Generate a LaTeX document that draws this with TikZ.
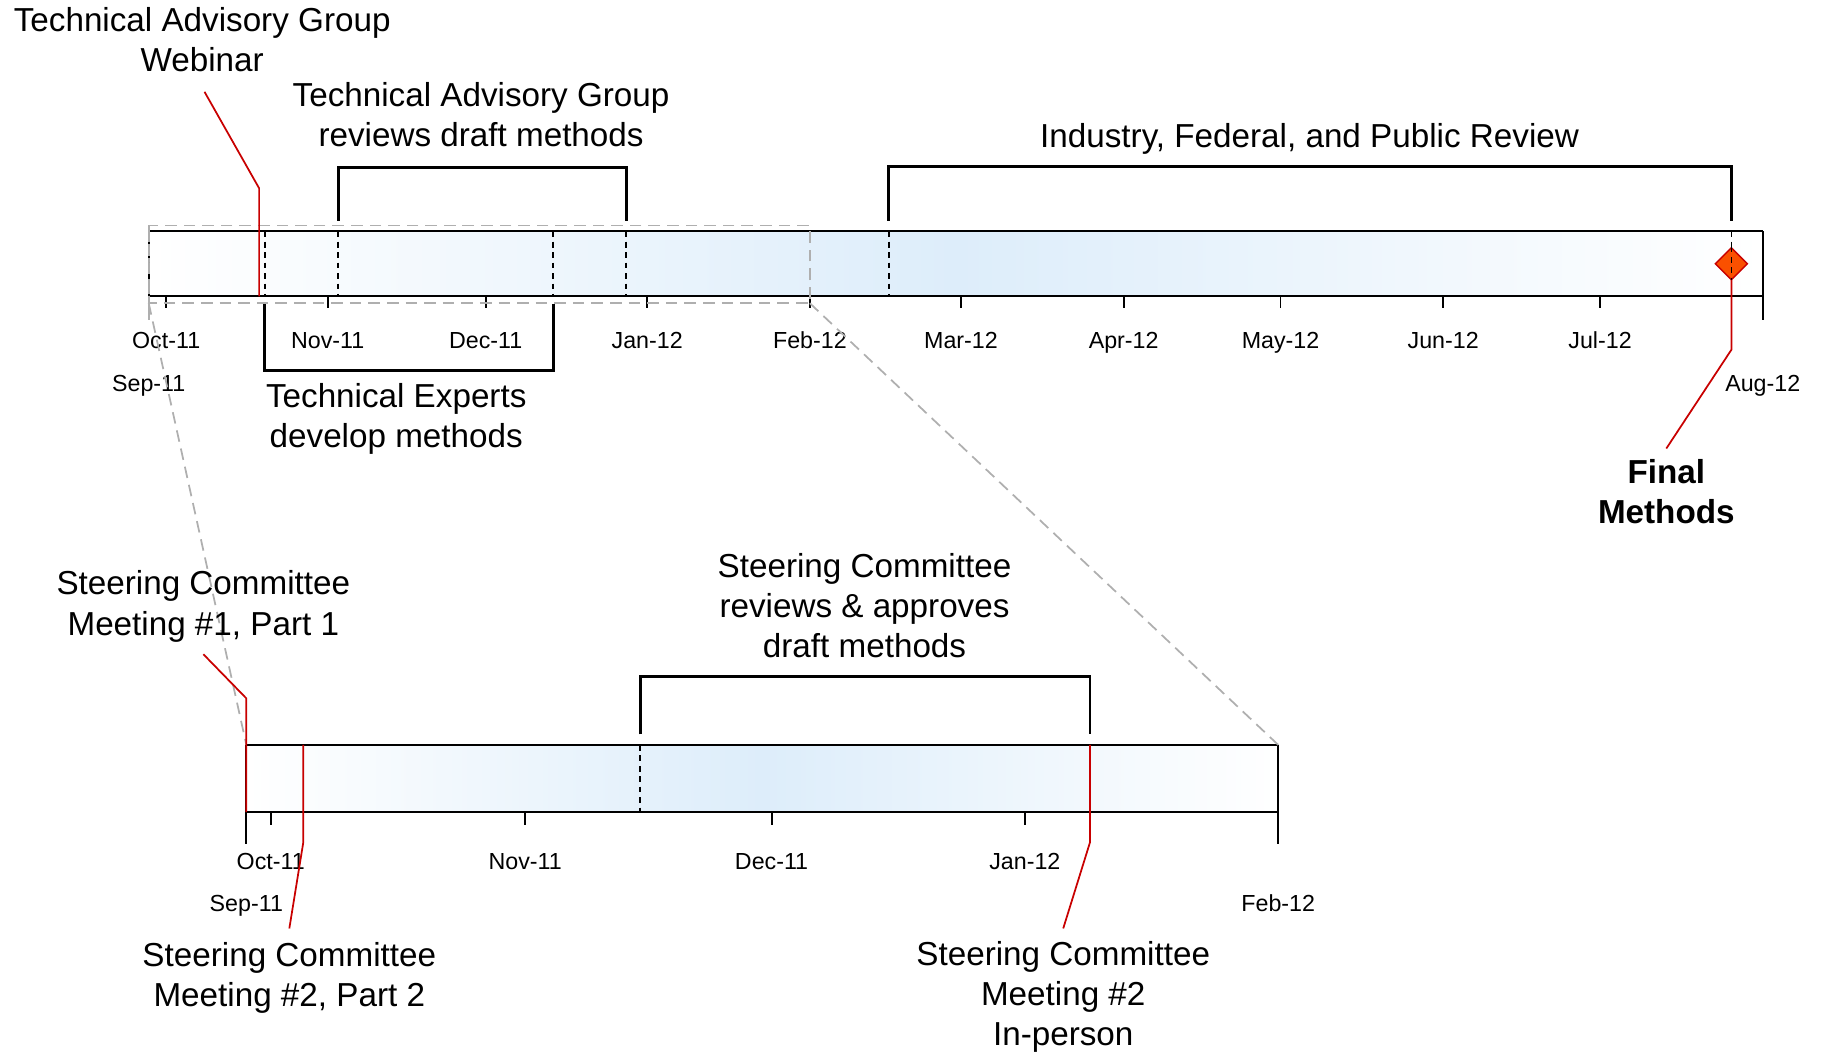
\documentclass[tikz,border=0pt]{standalone}
\usepackage{fontspec}
\setmainfont{Liberation Sans}
\usetikzlibrary{shapes.geometric}
\definecolor{barblue}{RGB}{221,237,250}
\definecolor{leadred}{RGB}{200,0,0}
\definecolor{diafill}{RGB}{250,80,0}
\definecolor{zoomgray}{RGB}{175,175,175}
\begin{document}
\begin{tikzpicture}[x=1pt,y=-1pt,
  big/.style={font=\fontsize{28.6}{34.5}\selectfont, align=center, inner sep=0pt, anchor=base},
  bigbold/.style={big, font=\fontsize{28.6}{34.5}\selectfont\bfseries},
  small/.style={font=\fontsize{20}{24}\selectfont, inner sep=0pt, anchor=base},
  barline/.style={line width=2pt},
  brk/.style={line width=2.5pt},
  tickline/.style={line width=1.6pt},
  dsh/.style={line width=1.5pt, dash pattern=on 5pt off 4pt},
  lead/.style={leadred, line width=1.5pt},
  zoomline/.style={zoomgray, line width=1.5pt, dash pattern=on 10pt off 6pt},
  milestone/.style={diamond, draw=leadred, fill=diafill, line width=1.2pt, minimum width=28pt, minimum height=28pt, inner sep=0pt}]
\useasboundingbox (0,0) rectangle (1568,906);

% ---------------- top bar ----------------
\coordinate (T-nw) at (128,199);
\coordinate (T-ne) at (1517,199);
\coordinate (T-sw) at (128,255);
\coordinate (T-se) at (1517,255);
\shade[left color=white, right color=white, middle color=barblue] (T-nw) rectangle (T-se);
\draw[barline] (T-nw) -- (T-ne);
\draw[barline] (T-sw) -- (T-se);
\draw[barline] (T-ne) -- (1517,275);
\draw[zoomgray, line width=1.5pt] (T-nw) -- (128,275);
\draw[dsh] (T-nw) -- (T-sw);

% ticks and month labels
\foreach \x/\m in {143/Oct-11, 282/Nov-11, 418/Dec-11, 557/Jan-12, 697/Feb-12, 827/Mar-12, 967/Apr-12, 1102/May-12, 1242/Jun-12, 1377/Jul-12}{
  \draw[tickline] (\x,255) -- (\x,265);
  \node[small] at (\x,300) {\m};
}
\node[small] (sep11a) at (128,337) {Sep-11};
\node[small] (aug12) at (1517,337) {Aug-12};

% dashed markers inside the top bar
\foreach \x in {228,291,476,539,765,1490}{
  \draw[dsh] (\x,199) -- (\x,255);
}

% zoom window
\coordinate (Z-nw) at (128,194);
\coordinate (Z-se) at (697,261);
\coordinate (Z-sw) at (128,261);
\draw[zoomline] (Z-nw) rectangle (Z-se);

% brackets (top)
\coordinate (tagr-l) at (291,190);
\coordinate (tagr-r) at (539,190);
\draw[brk] (tagr-l) -- (291,144) -- (539,144) -- (tagr-r);
\coordinate (ind-l) at (765,190);
\coordinate (ind-r) at (1490,190);
\draw[brk] (ind-l) -- (765,143) -- (1490,143) -- (ind-r);
\coordinate (exp-l) at (228,262);
\coordinate (exp-r) at (476,262);
\draw[brk] (exp-l) -- (228,319) -- (476,319) -- (exp-r);

% labels (top)
\node[big] (tagweb) at (174,61.5) {Technical Advisory Group\\Webinar};
\node[big] (tagrev) at (414,126.5) {Technical Advisory Group\\reviews draft methods};
\node[big] (indrev) at (1127,127) {Industry, Federal, and Public Review};
\node[big] (techexp) at (341,385.5) {Technical Experts\\develop methods};
\node[bigbold] (final) at (1434,450.5) {Final\\Methods};

% milestone
\node[milestone] (dia) at (1490,227) {};
\draw[dsh, line width=1.2pt] (1490,212) -- (1490,242);

% leader lines (top)
\coordinate (web-a) at (176,79);
\coordinate (web-b) at (223,162);
\coordinate (web-c) at (223,255);
\draw[lead] (web-a) -- (web-b) -- (web-c);
\coordinate (fin-a) at (1490,241);
\coordinate (fin-b) at (1490,301);
\coordinate (fin-c) at (1434,386);
\draw[lead] (fin-a) -- (fin-b) -- (fin-c);

% ---------------- lower bar ----------------
\coordinate (L-nw) at (212,641);
\coordinate (L-ne) at (1100,641);
\coordinate (L-sw) at (212,699);
\coordinate (L-se) at (1100,699);
\shade[left color=white, right color=white, middle color=barblue] (L-nw) rectangle (L-se);
\draw[barline] (L-nw) -- (L-ne);
\draw[barline] (L-sw) -- (L-se);
\draw[barline] (L-ne) -- (1100,726);
\draw[tickline] (L-nw) -- (212,726);

\foreach \x/\m in {233/Oct-11, 452/Nov-11, 664/Dec-11, 882/Jan-12}{
  \draw[tickline] (\x,699) -- (\x,710);
  \node[small] at (\x,748) {\m};
}
\node[small] (sep11b) at (212,784) {Sep-11};
\node[small] (feb12) at (1100,784) {Feb-12};

\draw[dsh] (551,641) -- (551,699);

% zoom connectors
\draw[zoomline] (Z-sw) -- (L-nw);
\draw[zoomline] (Z-se) -- (L-ne);

% bracket (lower)
\coordinate (sc-l) at (551,632);
\coordinate (sc-r) at (938,632);
\draw[brk] (sc-l) -- (551,582) -- (938,582) -- (sc-r);

% labels (lower)
\node[big] (m1p1) at (175,546.5) {Steering Committee\\Meeting \#1, Part 1};
\node[big] (screv) at (744,566) {Steering Committee\\reviews \& approves\\draft methods};
\node[big] (m2p2) at (249,866.5) {Steering Committee\\Meeting \#2, Part 2};
\node[big] (m2ip) at (915,900) {Steering Committee\\Meeting \#2\\In-person};

% leader lines (lower)
\coordinate (p1-a) at (175,563);
\coordinate (p1-b) at (212,601);
\coordinate (p1-c) at (212,699);
\draw[lead] (p1-a) -- (p1-b) -- (p1-c);
\coordinate (p2-a) at (261,641);
\coordinate (p2-b) at (261,725);
\coordinate (p2-c) at (249,799);
\draw[lead] (p2-a) -- (p2-b) -- (p2-c);
\coordinate (ip-a) at (938,641);
\coordinate (ip-b) at (938,725);
\coordinate (ip-c) at (915,799);
\draw[lead] (ip-a) -- (ip-b) -- (ip-c);
\end{tikzpicture}
\end{document}
